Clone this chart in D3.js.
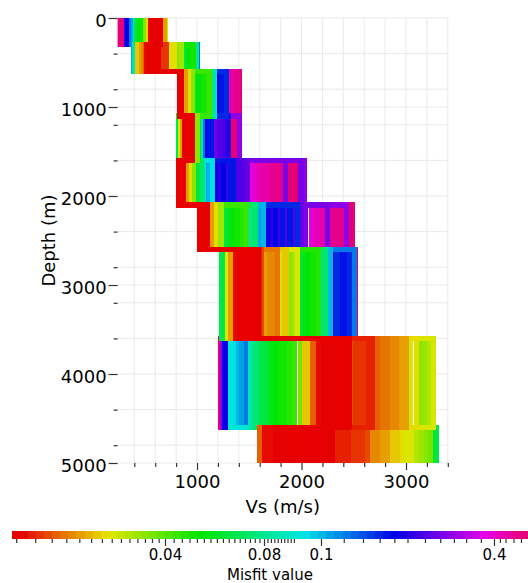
<!DOCTYPE html>
<html>
<head>
<meta charset="utf-8">
<script src="https://cdn.jsdelivr.net/npm/d3@7/dist/d3.min.js"></script>
<style>
  html, body { margin:0; padding:0; background:#fff; }
  svg { display:block; }
  text { font-family: "DejaVu Sans", Verdana, sans-serif; fill:#000; }
</style>
</head>
<body>
<svg id="chart" width="528" height="583"></svg>
<script>
// ---------------- DATA ----------------
// layer top depths (m); the last layer is a half-space
const layerTops = [0, 300, 600, 1100, 1600, 2100, 2600, 3600, 4600];
const depthDomain = [0, 5000];
const vsDomain = [240, 3400];

// misfit of each profile (drawn from worst to best)
const misfits = [
  0.52, 0.50, 0.49, 0.48, 0.47, 0.46, 0.44, 0.42, 0.40,
  0.29, 0.275, 0.26, 0.25, 0.24, 0.23, 0.22, 0.21,
  0.19, 0.18, 0.175, 0.17, 0.16, 0.155,
  0.12, 0.11, 0.10, 0.095, 0.091,
  0.085, 0.079, 0.073,
  0.065, 0.06, 0.056, 0.053, 0.05, 0.048, 0.046, 0.043,
  0.036, 0.033, 0.031, 0.029, 0.027,
  0.0255, 0.0245, 0.0235, 0.0225,
  0.0205, 0.0198, 0.019, 0.0185, 0.018, 0.0175, 0.017, 0.0165,
  0.0152, 0.015, 0.0147, 0.0144, 0.0141, 0.0138, 0.0135,
  0.0125, 0.0124, 0.0123, 0.0122, 0.0122, 0.0121, 0.0121, 0.012, 0.012, 0.012, 0.0119, 0.0119, 0.0118, 0.0117
];

// Vs (m/s) of each profile, one array per layer
const vsLayer1 = [
  262, 285, 560, 580, 600, 620, 640, 570, 590,
  565, 585, 605, 625, 635, 645, 650, 575,
  325, 342, 560, 580, 600, 620,
  375, 392, 585, 605, 625,
  408, 570, 595,
  422, 437, 452, 467, 482, 492, 590, 610,
  505, 515, 590, 615, 640,
  702, 535, 600, 625,
  678, 690, 570, 590, 610, 630, 560, 645,
  570, 600, 630, 585, 610, 565, 650,
  560, 567, 574, 581, 588, 595, 602, 609, 616, 623, 630, 637, 644, 650
];
const vsLayer2 = [
  524, 533, 542, 551, 560, 569, 578, 587, 596,
  524, 551, 578, 605, 614, 632, 515, 560,
  515, 542, 569, 596, 623, 632,
  1005, 395, 533, 578, 614,
  405, 990, 560,
  880, 900, 920, 940, 955, 970, 560, 605,
  820, 835, 850, 551, 587,
  760, 780, 435, 560,
  465, 478, 492, 525, 575, 615, 505, 555,
  665, 680, 695, 708, 542, 569, 596,
  515, 524, 533, 542, 551, 560, 569, 578, 587, 596, 605, 614, 623, 632
];
const vsLayer3 = [
  1410, 1405, 1390, 1370, 1350, 1330, 1240, 1260, 1280,
  1220, 1240, 1260, 1200, 1280, 1285, 1220, 1240,
  1200, 1220, 1240, 1260, 1280, 1285,
  995, 1040, 1090, 1170, 1015,
  1140, 1155, 1040,
  975, 995, 1015, 1040, 1065, 1090, 1110, 1120,
  945, 958, 840, 846, 850,
  905, 920, 836, 844,
  880, 888, 832, 836, 840, 844, 848, 851,
  834, 838, 842, 846, 850, 836, 844,
  832, 836, 840, 844, 848, 851, 834, 838, 842, 846, 850, 836, 844, 832
];
const vsLayer4 = [
  1350, 1362, 1180, 1200, 1220, 1245, 1270, 1300, 1160,
  1410, 1160, 1180, 1200, 1220, 1245, 1270, 1300,
  1080, 1100, 1120, 1135, 985, 1000,
  1050, 885, 905, 925, 1000,
  1030, 945, 915,
  820, 1015, 885, 895, 905, 925, 935, 945,
  985, 1000, 895, 915, 935,
  840, 905, 925, 945,
  862, 885, 895, 905, 915, 925, 935, 945,
  885, 905, 925, 945, 895, 915, 935,
  885, 895, 905, 915, 925, 935, 945, 960, 895, 915, 935, 905, 925, 955
];
const vsLayer5 = [
  1945, 1895, 1805, 1760, 1715, 1670, 1625, 1580, 1535,
  2025, 1995, 1850, 1485, 1430, 1385, 1285, 1215,
  1180, 1250, 1320, 1345, 1105, 1125,
  1085, 1105, 1125, 1145, 1065,
  1035, 1055, 1045,
  985, 1000, 838, 848, 858, 868, 845, 855,
  952, 965, 840, 850, 860,
  918, 928, 845, 862,
  895, 835, 845, 855, 865, 850, 840, 870,
  835, 845, 855, 865, 850, 860, 870,
  835, 845, 855, 865, 872, 850, 840, 838, 860, 848, 858, 842, 852, 828
];
const vsLayer6 = [
  2490, 2470, 2385, 2345, 2300, 2210, 2185, 2140, 2095,
  2430, 2250, 2040, 2000, 1925, 1855, 1785, 1715,
  1680, 1750, 1820, 1890, 1960, 1610,
  1585, 1610, 1635, 1320, 1380,
  1500, 1530, 1555,
  1260, 1290, 1320, 1350, 1380, 1410, 1440, 1470,
  1200, 1215, 1230, 1060, 1090,
  1165, 1180, 1045, 1075,
  1130, 1140, 1045, 1060, 1075, 1090, 1050, 1065,
  1045, 1060, 1075, 1090, 1050, 1065, 1080,
  1030, 1045, 1060, 1075, 1090, 1100, 1040, 1055, 1070, 1085, 1050, 1065, 1080, 1025
];
const vsLayer7 = [
  2520, 2320, 2360, 2400, 2440, 2420, 2380, 2340, 2300,
  2330, 2370, 2410, 2450, 2350, 2390, 2430, 2310,
  2320, 2360, 2400, 2440, 2460, 2340,
  2505, 2265, 2280, 1590, 1540,
  2200, 2215, 2225,
  1240, 1990, 2030, 2070, 2110, 2150, 2165, 1500,
  1880, 1905, 1930, 1950, 1960,
  1290, 1805, 1835, 1860,
  1325, 1650, 1690, 1730, 1770, 1400, 1470, 1550,
  1620, 1380, 1450, 1530, 1600, 1420, 1500,
  1365, 1390, 1415, 1440, 1465, 1490, 1515, 1540, 1565, 1590, 1410, 1460, 1520, 1480
];
const vsLayer8 = [
  1225, 2160, 2210, 2260, 2310, 2360, 2410, 2185, 2235,
  1245, 2285, 2335, 2385, 2435, 2160, 2210, 2260,
  1265, 1290, 2185, 2235, 2285, 2335,
  1460, 1420, 1380, 1350, 1320,
  1510, 1545, 1575,
  1620, 1665, 1710, 1755, 1800, 1845, 1890, 1935,
  1990, 3150, 3190, 3230, 3265,
  3045, 3100, 2030, 2060,
  3000, 2955, 2910, 2865, 2820, 2775, 2730, 2110,
  2480, 2520, 2560, 2600, 2640, 2680, 2185,
  2160, 2185, 2210, 2235, 2260, 2285, 2310, 2335, 2360, 2385, 2410, 2435, 2455, 2440
];
const vsLayer9 = [
  2100, 2150, 2200, 2250, 2300, 1650, 1750, 1850, 1950,
  1650, 1700, 1750, 1800, 1850, 1900, 1950, 2000,
  1750, 1850, 1950, 2050, 2150, 2250,
  1700, 1800, 2250, 2300, 1900,
  1650, 2000, 2150,
  3290, 3275, 1750, 1850, 1950, 2050, 2150, 2250,
  3235, 3190, 3145, 3100, 3055,
  3009, 2962, 2915, 2868,
  2821, 2774, 2727, 2680, 1700, 1800, 1900, 1600,
  2632, 2585, 2538, 2491, 2444, 2397, 2350,
  1650, 1700, 1750, 1800, 1850, 1900, 1950, 2000, 2050, 2100, 2150, 2200, 2250, 2300
];

// axis ticks
const xTickMajor = [1000, 2000, 3000];
const xTickMinor = [400, 600, 800, 1200, 1400, 1600, 1800, 2200, 2400, 2600, 2800, 3200, 3400];
const yTickMajor = [0, 1000, 2000, 3000, 4000, 5000];
const yTickMinor = [400, 800, 1200, 1600, 2400, 2800, 3200, 3600, 4400, 4800];

// colour bar (misfit)
const cbBreaks = [0.0116, 0.04, 0.08, 0.09, 0.1, 0.4, 0.53];
const cbTickMajor = [0.04, 0.08, 0.1, 0.4];
const cbTickMinor = [0.012, 0.014, 0.016, 0.018, 0.02, 0.022, 0.024, 0.026, 0.028, 0.03, 0.032, 0.034, 0.036, 0.038,
  0.0425, 0.045, 0.0475, 0.05, 0.0525, 0.055, 0.0575, 0.06, 0.0625, 0.065, 0.0675, 0.07, 0.0725, 0.075, 0.0775,
  0.081, 0.082, 0.083, 0.084, 0.085, 0.086, 0.087, 0.088, 0.089,
  0.12, 0.14, 0.16, 0.18, 0.2, 0.23, 0.26, 0.29, 0.32, 0.36,
  0.42, 0.44, 0.47, 0.5];

// ---------------- CHART ----------------
const svg = d3.select("#chart");
const plot = {left: 117.6, right: 447.8, top: 18, bottom: 463};
const x = d3.scaleLinear().domain(vsDomain).range([plot.left, plot.right]);
const y = d3.scaleLinear().domain(depthDomain).range([plot.top, plot.bottom]);

const cb = {left: 12, right: 528, top: 531, bottom: 539};
const cbX = d3.scaleLog().domain(cbBreaks).range([12, 165, 264, 297, 321, 494, 528]).clamp(true);

// palette
const hueOf = d3.scaleLinear()
  .domain([0, 0.015, 0.186, 0.364, 0.566, 0.742, 0.917, 1])
  .range([0, 0, 60, 120, 180, 240, 300, 332]).clamp(true);
function hsv2hex(h, s, v) {
  const c = v * s, hp = (h % 360) / 60, xx = c * (1 - Math.abs(hp % 2 - 1));
  let r = 0, g = 0, b = 0;
  if (hp < 1) { r = c; g = xx; } else if (hp < 2) { r = xx; g = c; }
  else if (hp < 3) { g = c; b = xx; } else if (hp < 4) { g = xx; b = c; }
  else if (hp < 5) { r = xx; b = c; } else { r = c; b = xx; }
  const m = v - c;
  return d3.rgb((r + m) * 255, (g + m) * 255, (b + m) * 255).formatHex();
}
const NLEV = 64;
function palette(t) {
  const q = Math.min(NLEV - 1, Math.max(0, Math.floor(t * NLEV)));
  return hsv2hex(hueOf((q + 0.5) / NLEV), 1, 0.9);
}
const misfitColor = m => palette((cbX(m) - cb.left) / (cb.right - cb.left));

// grid
const grid = svg.append("g").attr("stroke", "#e9e9e9").attr("stroke-width", 1);
[...xTickMajor, ...xTickMinor].forEach(v => {
  grid.append("line").attr("x1", x(v)).attr("x2", x(v)).attr("y1", plot.top).attr("y2", plot.bottom);
});
[...yTickMajor, ...yTickMinor].forEach(v => {
  grid.append("line").attr("x1", plot.left).attr("x2", plot.right).attr("y1", y(v)).attr("y2", y(v));
});

// clip
svg.append("defs").append("clipPath").attr("id", "pclip")
  .append("rect").attr("x", plot.left).attr("y", plot.top)
  .attr("width", plot.right - plot.left).attr("height", plot.bottom - plot.top);

const layersVs = [vsLayer1, vsLayer2, vsLayer3, vsLayer4, vsLayer5, vsLayer6, vsLayer7, vsLayer8, vsLayer9];
const profiles = misfits.map((m, i) => {
  const pts = [];
  layersVs.forEach((arr, k) => {
    const top = layerTops[k];
    const bot = k + 1 < layerTops.length ? layerTops[k + 1] : depthDomain[1];
    pts.push([arr[i], top], [arr[i], bot]);
  });
  return {misfit: m, pts};
});
const ordered = d3.sort(profiles, (a, b) => b.misfit - a.misfit);
const line = d3.line().x(d => x(d[0])).y(d => y(d[1]));

svg.append("g").attr("clip-path", "url(#pclip)")
  .selectAll("path").data(ordered).join("path")
  .attr("d", d => line(d.pts))
  .attr("fill", "none")
  .attr("stroke", d => misfitColor(d.misfit))
  .attr("stroke-width", 5.2)
  .attr("stroke-linejoin", "miter")
  .attr("stroke-linecap", "butt")
  .attr("shape-rendering", "crispEdges");

// x axis
const xMinorAxis = d3.axisBottom(x).tickValues(xTickMinor).tickSize(4).tickFormat("");
const xMajorAxis = d3.axisBottom(x).tickValues(xTickMajor).tickSize(7).tickPadding(5).tickFormat(d3.format("d"));
function styleAxis(g) {
  g.select(".domain").remove();
  g.selectAll(".tick line").attr("stroke", "#333").attr("stroke-width", 1.2);
  g.selectAll("text").style("font-family", '"DejaVu Sans", Verdana, sans-serif').attr("fill", "#000");
}
svg.append("g").attr("transform", `translate(0,${plot.bottom})`).call(xMinorAxis).call(styleAxis);
svg.append("g").attr("transform", `translate(0,${plot.bottom})`).call(xMajorAxis).call(styleAxis)
  .selectAll("text").attr("font-size", 18);

// y axis
const yMinorAxis = d3.axisLeft(y).tickValues(yTickMinor).tickSize(4).tickFormat("");
const yMajorAxis = d3.axisLeft(y).tickValues(yTickMajor).tickSize(9).tickPadding(2).tickFormat(d3.format("d"));
svg.append("g").attr("transform", `translate(${plot.left},0)`).call(yMinorAxis).call(styleAxis);
svg.append("g").attr("transform", `translate(${plot.left},0)`).call(yMajorAxis).call(styleAxis)
  .selectAll("text").attr("font-size", 18).attr("dy", "0.45em");

// axis titles
svg.append("text").attr("x", (plot.left + plot.right) / 2).attr("y", 513)
  .attr("text-anchor", "middle").attr("font-size", 18).text("Vs (m/s)");
svg.append("text").attr("transform", `translate(55,${(plot.top + plot.bottom) / 2}) rotate(-90)`)
  .attr("text-anchor", "middle").attr("font-size", 18).text("Depth (m)");

// colour bar
const cbg = svg.append("g");
const cbPixels = d3.range(cb.left, cb.right);
cbg.selectAll("rect").data(cbPixels).join("rect")
  .attr("x", d => d).attr("y", cb.top).attr("width", 1.05).attr("height", cb.bottom - cb.top)
  .attr("fill", d => palette((d + 0.5 - cb.left) / (cb.right - cb.left)));

const cbMinorAxis = d3.axisBottom(cbX).tickValues(cbTickMinor).tickSize(4).tickFormat("");
const cbMajorAxis = d3.axisBottom(cbX).tickValues(cbTickMajor).tickSize(7).tickPadding(3).tickFormat(d => String(d));
svg.append("g").attr("transform", `translate(0,${cb.bottom})`).call(cbMinorAxis).call(styleAxis);
svg.append("g").attr("transform", `translate(0,${cb.bottom})`).call(cbMajorAxis).call(styleAxis)
  .selectAll("text").attr("font-size", 15);

svg.append("text").attr("x", (cb.left + cb.right) / 2).attr("y", 579.5)
  .attr("text-anchor", "middle").attr("font-size", 15).text("Misfit value");
</script>
</body>
</html>
